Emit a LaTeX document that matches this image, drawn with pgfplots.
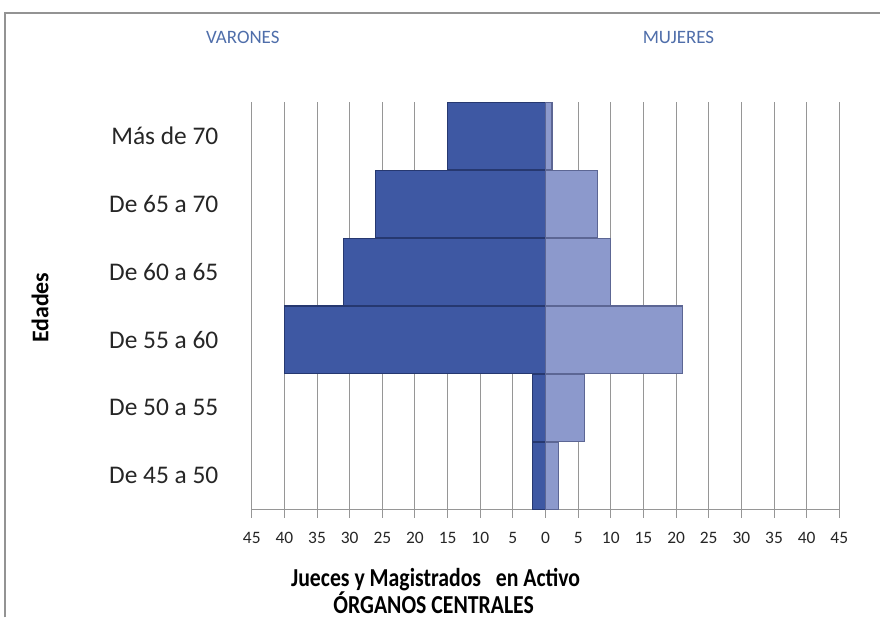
\documentclass[border=0pt]{standalone}
\usepackage{pgfplots}
\pgfplotsset{compat=1.18}
\usepackage{fontspec}
\setmainfont{Carlito}
\newfontfamily\condfont{Carlito}[FakeStretch=0.84]
\definecolor{men}{RGB}{62,88,163}
\definecolor{menedge}{RGB}{38,56,112}
\definecolor{wom}{RGB}{140,153,204}
\definecolor{womedge}{RGB}{92,102,148}
\definecolor{lab}{RGB}{79,110,170}
\definecolor{gridc}{RGB}{150,150,150}
\begin{document}
\begin{tikzpicture}[x=1bp,y=1bp]
\path (0,0) rectangle (881,618);
\draw[gray!85, line width=1.5bp] (5,0) -- (5,605) -- (881,605);
\begin{axis}[at={(252bp,108bp)}, anchor=south west, scale only axis,
  width=588bp, height=408bp,
  xmin=-45, xmax=45, ymin=-0.5, ymax=5.5,
  xtick={-45,-40,-35,-30,-25,-20,-15,-10,-5,0,5,10,15,20,25,30,35,40,45},
  xticklabels={45,40,35,30,25,20,15,10,5,0,5,10,15,20,25,30,35,40,45},
  ytick={0,1,2,3,4,5},
  yticklabels={De 45 a 50,De 50 a 55,De 55 a 60,De 60 a 65,De 65 a 70,Más de 70},
  axis x line*=bottom, axis y line*=left,
  y axis line style={draw=none}, ytick style={draw=none},
  x axis line style={gridc, line width=1bp},
  xtick style={gridc, line width=1bp},
  tick align=outside, major tick length=8bp,
  xmajorgrids, grid style={gridc, line width=1bp},
  xticklabel style={font=\fontsize{17.5}{17.5}\selectfont, text=black!85, yshift=-11bp},
  yticklabel style={font=\fontsize{25.5}{25.5}\selectfont, text=black!85, xshift=-22bp},
  xbar, bar width=0.99,
]
\addplot[xbar, bar shift=0pt, fill=men, draw=menedge, line width=1.2bp]
  coordinates {(-2,0) (-2,1) (-40,2) (-31,3) (-26,4) (-15,5)};
\addplot[xbar, bar shift=0pt, fill=wom, draw=womedge, line width=1.2bp]
  coordinates {(2,0) (6,1) (21,2) (10,3) (8,4) (1,5)};
\end{axis}
\node[rotate=90, font=\bfseries\fontsize{24}{24}\selectfont] at (40,310) {Edades};
\node[anchor=base, font=\condfont\bfseries\fontsize{26}{26}\selectfont] at (436,31) {Jueces y Magistrados\ \ \ en Activo};
\node[anchor=base, font=\condfont\bfseries\fontsize{26}{26}\selectfont] at (434,4) {ÓRGANOS CENTRALES};
\node[font=\fontsize{19}{19}\selectfont, text=lab] at (243,581) {VARONES};
\node[font=\fontsize{19}{19}\selectfont, text=lab] at (679,581) {MUJERES};
\end{tikzpicture}
\end{document}
